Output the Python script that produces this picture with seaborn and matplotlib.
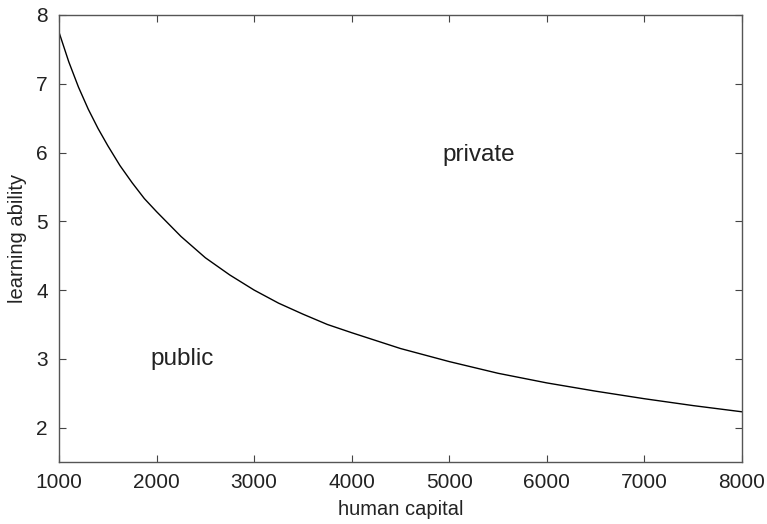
import matplotlib
matplotlib.use("Agg")
import matplotlib.pyplot as plt
import seaborn as sns
import pandas as pd

# Boundary between public and private schooling choice
human_capital = [1000, 1100, 1200, 1300, 1400, 1500, 1625, 1750, 1875, 2000, 2250, 2500,
                 2750, 3000, 3250, 3500, 3750, 4000, 4500, 5000, 5500, 6000, 6500,
                 7000, 7500, 8000]
learning_ability = [7.75, 7.32, 6.95, 6.63, 6.35, 6.10, 5.81, 5.56, 5.33, 5.14, 4.78,
                    4.47, 4.22, 4.00, 3.81, 3.65, 3.50, 3.38, 3.15, 2.96, 2.79, 2.65,
                    2.53, 2.42, 2.32, 2.23]

region_labels = ["private", "public"]
region_x = [5300, 2260]
region_y = [5.96, 3.0]

x_ticks = [1000, 2000, 3000, 4000, 5000, 6000, 7000, 8000]
y_ticks = [2, 3, 4, 5, 6, 7, 8]

sns.set_theme(style="white")
plt.rcParams["font.family"] = ["Liberation Sans", "DejaVu Sans"]

df = pd.DataFrame({"human capital": human_capital, "learning ability": learning_ability})

fig = plt.figure(figsize=(7.67, 5.24), dpi=100)
ax = fig.add_axes([59 / 767, 1 - 462 / 524, (742 - 59) / 767, (462 - 15) / 524])

sns.lineplot(data=df, x="human capital", y="learning ability", ax=ax,
             color="black", linewidth=1.0)

ax.set_xlim(1000, 8000)
ax.set_ylim(1.5, 8)
ax.set_xticks(x_ticks)
ax.set_yticks(y_ticks)
ax.tick_params(direction="in", length=5, width=0.8, colors="#444444",
               labelcolor="#222222", labelsize=15, top=True, right=True,
               bottom=True, left=True, pad=8)
for s in ax.spines.values():
    s.set_color("#555555")
    s.set_linewidth(1.0)
    s.set_visible(True)

ax.set_xlabel("human capital", fontsize=14.5, color="#222222", labelpad=6)
ax.set_ylabel("learning ability", fontsize=14.5, color="#222222", labelpad=7)

for lab, tx, ty in zip(region_labels, region_x, region_y):
    ax.text(tx, ty, lab, fontsize=17.5, color="#222222", ha="center", va="center")

fig.savefig("out.png", dpi=100)
